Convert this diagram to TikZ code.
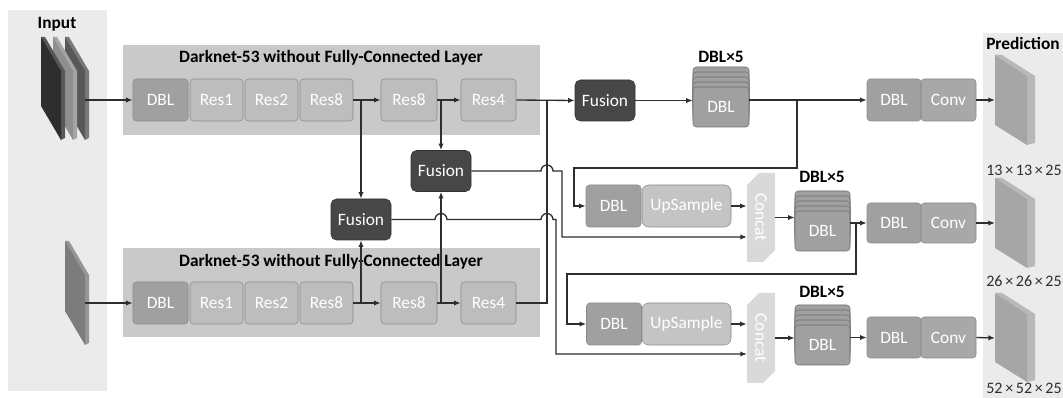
\documentclass[tikz,border=0pt]{standalone}
\usepackage{fontspec}
\setmainfont{Carlito}
\usepackage{graphicx}
\usetikzlibrary{arrows.meta,calc}
\definecolor{panelA}{HTML}{EBEBEB}
\definecolor{panelB}{HTML}{C9C9C9}
\definecolor{dblc}{HTML}{A0A0A0}
\definecolor{resc}{HTML}{BDBDBD}
\definecolor{bordc}{HTML}{8A8A8A}
\definecolor{fusc}{HTML}{474747}
\definecolor{upc}{HTML}{C4C4C4}
\definecolor{concc}{HTML}{D9D9D9}
\definecolor{linec}{HTML}{2E2E2E}
\definecolor{slabc}{HTML}{A6A6A6}
\definecolor{slabs}{HTML}{B8B8B8}
\definecolor{inA}{HTML}{2E2E2E}
\definecolor{inB}{HTML}{8F8F8F}
\definecolor{inC}{HTML}{585858}
\definecolor{inD}{HTML}{7C7C7C}
\tikzset{
  base/.style={inner sep=0pt, text=white, font=\fontsize{13}{15}\selectfont},
  blkd/.style={base, draw=bordc, fill=dblc, rounded corners=2.5pt, minimum height=42*0.75pt},
  blkr/.style={base, draw=bordc, fill=resc, rounded corners=2.5pt, minimum height=42*0.75pt},
  fus/.style={base, draw=fusc!70!black, fill=fusc, rounded corners=4pt, minimum width=60*0.75pt, minimum height=41*0.75pt},
  ups/.style={base, draw=bordc, fill=upc, rounded corners=5pt, minimum height=42*0.75pt, minimum width=89*0.75pt},
  stk/.style={draw=bordc!80!black, fill=dblc, rounded corners=2.5pt},
  ttl/.style={font=\bfseries\fontsize{13}{15}\selectfont, text=black, inner sep=0pt},
  lbl/.style={font=\fontsize{12}{14}\selectfont, text=linec, inner sep=0pt},
  conn/.style={draw=linec, line width=1pt},
  arr/.style={conn, -{Latex[length=5pt,width=4pt]}},
}
\newcommand\dblstack[5]{% name, xl, xr, fronttop, bottom
  \foreach \k in {4,3,2,1}{\draw[stk] (#2,#4-5*\k) rectangle (#3,#5-5*\k);}
  \node[stk, base, minimum width=(#3-#2)*0.75pt, minimum height=(#5-#4)*0.75pt] (#1) at ({(#2+#3)/2},{(#4+#5)/2}) {DBL};}
\newcommand\predslab[3]{% x, top, bottom
  \fill[slabs] (#1,#2) -- (#1+7,#2) -- (#1+40,#2+21) -- (#1+40,#3-2) -- (#1+32,#3) -- (#1+32,#2+21) -- cycle;
  \fill[slabc] (#1,#2) -- (#1+32,#2+21) -- (#1+32,#3) -- (#1,#3-20) -- cycle;}
\newcommand\inslab[4]{% x, top, bottom, colour
  \fill[#4!80!white] (#1,#2) -- (#1+4,#2) -- (#1+24,#2+34) -- (#1+24,#3-2) -- (#1+20,#3) -- cycle;
  \fill[#4] (#1,#2) -- (#1+20,#2+34) -- (#1+20,#3) -- (#1,#3-34) -- cycle;}
\begin{document}
\begin{tikzpicture}[x=0.75pt,y=-0.75pt]
\useasboundingbox (0,0) rectangle (1063,398);
\fill[white] (0,0) rectangle (1063,398);
% panels
\fill[panelA] (8,10) rectangle (107,391);
\fill[panelA] (983,33) rectangle (1063,398);
\fill[panelB] (123,45) rectangle (540,135);
\fill[panelB] (123,248) rectangle (540,337);
\node[ttl] (tin) at (57,24) {Input};
\node[ttl] (tpred) at (1023,43) {Prediction};
\node[ttl] (tdk1) at (331,58) {Darknet-53 without Fully-Connected Layer};
\node[ttl] (tdk2) at (331,262) {Darknet-53 without Fully-Connected Layer};
% input slabs
\inslab{65}{37}{140}{inC}
\inslab{53}{37}{140}{inB}
\inslab{41}{37}{140}{inA}
\inslab{65}{241}{345}{inD}
\coordinate (in1) at (85,100);
\coordinate (in2) at (85,303);
% prediction slabs
\predslab{995}{55}{145}
\predslab{995}{178}{268}
\predslab{995}{293}{382}
\coordinate (P1) at (995,100);
\coordinate (P2) at (995,223);
\coordinate (P3) at (995,338);
\node[lbl] (l1) at (1024,170) {13\,×\,13\,×\,25};
\node[lbl] (l2) at (1024,281) {26\,×\,26\,×\,25};
\node[lbl] (l3) at (1024,388.5) {52\,×\,52\,×\,25};
% darknet rows
\foreach \r/\y in {a/100,b/303}{
  \node[blkd, minimum width=55*0.75pt] (DBL\r) at (160.5,\y) {DBL};
  \node[blkr, minimum width=53*0.75pt] (ResOne\r) at (216.5,\y) {Res1};
  \node[blkr, minimum width=53*0.75pt] (ResTwo\r) at (271.5,\y) {Res2};
  \node[blkr, minimum width=53*0.75pt] (ResEightA\r) at (326.5,\y) {Res8};
  \node[blkr, minimum width=56*0.75pt] (ResEightB\r) at (409,\y) {Res8};
  \node[blkr, minimum width=55*0.75pt] (ResFour\r) at (488.5,\y) {Res4};
}
% fusion
\node[fus] (FT) at (605,100.5) {Fusion};
\node[fus] (FM) at (441,171) {Fusion};
\node[fus] (FL) at (361,219.5) {Fusion};
% stacks
\node[ttl] (x1) at (721,57) {DBL×5};
\node[ttl] (x2) at (822,177) {DBL×5};
\node[ttl] (x3) at (822,292) {DBL×5};
\dblstack{S1}{693}{749}{87}{127}
\dblstack{S2}{795}{850}{211}{251}
\dblstack{S3}{795}{850}{325}{365}
% upsample rows
\node[blkd, minimum width=55*0.75pt] (DU1) at (613.5,206) {DBL};
\node[ups] (UP1) at (686.5,206) {UpSample};
\node[blkd, minimum width=55*0.75pt] (DU2) at (614,324) {DBL};
\node[ups] (UP2) at (686.5,324) {UpSample};
% concat
\fill[concc] (747,185) -- (759,173) -- (775,173) -- (775,250) -- (763,262) -- (747,262) -- cycle;
\fill[concc] (747,305) -- (759,293) -- (775,293) -- (775,371) -- (763,383) -- (747,383) -- cycle;
\node[base, minimum width=28*0.75pt, minimum height=89*0.75pt] (C1) at (761,217.5) {\rotatebox{-90}{Concat}};
\node[base, minimum width=28*0.75pt, minimum height=90*0.75pt] (C2) at (761,338) {\rotatebox{-90}{Concat}};
% DBL + Conv
\foreach \i/\y/\h in {1/100/42,2/223/40,3/337.5/41}{
  \node[blkd, minimum width=54*0.75pt, minimum height=\h*0.75pt] (DC\i) at (894,\y) {DBL};
  \node[blkd, fill=dblc!92!white, minimum width=55*0.75pt, minimum height=\h*0.75pt] (CV\i) at (948.5,\y) {Conv};
}
% ---- connectors ----
\draw[arr] (in1) -- (DBLa.west);
\draw[arr] (in2) -- (DBLb.west);
\foreach \r in {a,b}{
  \draw[arr] (ResEightA\r.east) -- (ResEightB\r.west);
  \draw[arr] (ResEightB\r.east) -- (ResFour\r.west);
}
\draw[arr] (ResFoura.east) -- (FT.west);
\draw[conn] (ResFourb.east) -| (547,100);
\draw[arr] (FL.north |- ResEightAa.east) -- (FL.north);
\draw[arr] (FL.south |- ResEightAb.east) -- (FL.south);
\draw[arr] (FM.north |- ResEightBa.east) -- (FM.north);
\draw[arr] (FM.south |- ResEightBb.east) -- (FM.south);
% fusion outputs with hops
\draw[arr] (FM.east) -- (541,171) arc[start angle=180,end angle=0,radius=4.5pt] -- (562,171) -- (562,237) -- (747,237);
\draw[arr] (FL.east) -- (435,219.5) arc[start angle=180,end angle=0,radius=4.5pt] -- (541,219.5) arc[start angle=180,end angle=0,radius=4.5pt] -- (556,219.5) -- (556,354) -- (747,354);
% detection path
\draw[arr] (FT.east) -- (FT.east -| S1.west);
\draw[arr] (S1.east |- DC1.west) -- (DC1.west);
\draw[arr] (797,100) |- (574,168) |- (DU1.west);
\draw[arr] (UP1.east) -- (UP1.east -| C1.west);
\draw[arr] (C1.east) -- (C1.east -| S2.west);
\draw[arr] (S2.east |- DC2.west) -- (DC2.west);
\draw[arr] (856,223) |- (567,274) |- (DU2.west);
\draw[arr] (UP2.east) -- (UP2.east -| C2.west);
\draw[arr] (C2.east) -- (C2.east -| S3.west);
\draw[arr] (S3.east |- DC3.west) -- (DC3.west);
\draw[arr] (CV1.east) -- (P1);
\draw[arr] (CV2.east) -- (P2);
\draw[arr] (CV3.east) -- (P3);
\end{tikzpicture}
\end{document}
